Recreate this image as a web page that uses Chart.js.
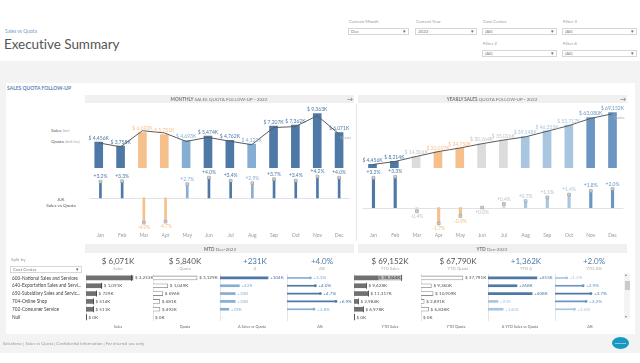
<!DOCTYPE html>
<html>
<head>
<meta charset="utf-8">
<title>Executive Summary</title>
<script src="https://cdn.jsdelivr.net/npm/chart.js@4.4.1/dist/chart.umd.min.js"></script>
<style>
  body { margin: 0; width: 640px; height: 363px; overflow: hidden; position: relative; background: #fff; font-family: Lato, "Open Sans", sans-serif; color: #555; }
  .t { position: absolute; white-space: nowrap; line-height: 1; }
  .c { transform: translateX(-50%); }
  .box { position: absolute; background: #fff; border: 1px solid #d6d6d6; box-sizing: border-box; font-size: 4.5px; color: #777; padding: 1px 2px; line-height: 1; }
  .box:after { content: '\25BE'; position: absolute; right: 2px; top: 0.5px; font-size: 5px; color: #666; }
  .strip { position: absolute; background: #f0f0f0; }
  canvas { position: absolute; }
</style>
</head>
<body>
<div style="position:absolute;left:0;top:61px;width:640px;height:292px;background:#f3f3f3"></div>
<div style="position:absolute;left:6px;top:83px;width:629px;height:251px;background:#fff"></div>
<div class="strip" style="left:85px;top:95px;width:269px;height:8px"></div>
<div class="strip" style="left:358px;top:95px;width:269px;height:8px"></div>
<div class="strip" style="left:85px;top:244px;width:269px;height:9px"></div>
<div class="strip" style="left:358px;top:244px;width:269px;height:9px"></div>
<div style="position:absolute;left:356px;top:104px;width:1px;height:137px;background:#e6e6e6"></div>

<canvas id="monthly" width="272" height="72" style="left:85px;top:100px"></canvas>
<canvas id="yearly" width="275" height="72" style="left:358px;top:100px"></canvas>
<canvas id="monthlyDelta" width="272" height="72" style="left:85px;top:168px"></canvas>
<canvas id="yearlyDelta" width="275" height="72" style="left:358px;top:168px"></canvas>

<canvas id="tSales" width="100" height="47" style="left:85px;top:274px"></canvas>
<canvas id="tQuota" width="100" height="47" style="left:152px;top:274px"></canvas>
<canvas id="tDelta" width="100" height="47" style="left:219px;top:274px"></canvas>
<canvas id="tPct" width="100" height="47" style="left:286px;top:274px"></canvas>
<canvas id="tYtdSales" width="100" height="47" style="left:353px;top:274px"></canvas>
<canvas id="tYtdQuota" width="100" height="47" style="left:420px;top:274px"></canvas>
<canvas id="tYtdDelta" width="100" height="47" style="left:487px;top:274px"></canvas>
<canvas id="tYtdPct" width="90" height="47" style="left:554px;top:274px"></canvas>

<div style="position:absolute;left:624px;top:273px;width:6px;height:46px;background:#f4f4f4"></div>
<div style="position:absolute;left:624.5px;top:281px;width:5px;height:9px;background:#cacaca"></div>
<div style="position:absolute;left:612px;top:337px;width:17px;height:12px;background:#1798c1;border-radius:50%"></div>

<script>
const months = ['Jan', 'Feb', 'Mar', 'Apr', 'May', 'Jun', 'Jul', 'Aug', 'Sep', 'Oct', 'Nov', 'Dec'];

const monthlySales = [4456, 3758, 6093, 5751, 4693, 5474, 4762, 4122, 7207, 7362, 9363, 6071];
const monthlyQuota = [4318, 3638, 6407, 6035, 4570, 5263, 4605, 4006, 6950, 7120, 8986, 5840];
const monthlyDeltaPct = [3.2, 3.3, -4.9, -4.7, 2.7, 4.0, 3.4, 2.9, 3.7, 3.4, 4.2, 4.0];

const yearlySales = [4456, 8214, 14306, 20057, 24750, 30264, 35026, 39148, 46355, 53717, 63080, 69152];
const yearlyQuota = [4318, 7952, 14363, 20404, 24975, 30264, 34886, 38876, 45851, 52975, 61965, 67790];
const yearlyDeltaPct = [3.2, 3.3, -0.4, -1.7, -0.9, 0.0, 0.4, 0.7, 1.1, 1.4, 1.8, 2.0];

const costCenters = ['600-National Sales and Services', '640-Exportation Sales and Servi...', '650-Subsidiary Sales and Servic...', '704-Online Shop', '702-Consumer Service', 'Null'];
const mtdSales = [3233, 1091, 729, 514, 511, 0];
const mtdQuota = [3129, 1049, 696, 481, 492, 0];
const mtdDelta = [104, 42, 33, 33, 19, null];
const mtdDeltaPct = [3.3, 4.0, 4.7, 6.9, 3.8, null];
const ytdSales = [38244, 9628, 11317, 2984, 6978, 0];
const ytdQuota = [37791, 9360, 10909, 2891, 6838, 0];
const ytdDelta = [453, 268, 408, 93, 140, null];
const ytdDeltaPct = [1.2, 2.9, 3.7, 3.2, 2.0, null];

const mtdKpis = [['$ 6,071K', 'Sales'], ['$ 5,840K', 'Quota'], ['+231K', '\u0394'], ['+4.0%', '\u0394%']];
const ytdKpis = [['$ 69,152K', 'YTD Sales'], ['$ 67,790K', 'YTD Quota'], ['+1,362K', 'YTD \u0394'], ['+2.0%', 'YTD \u0394%']];
const tableHeaders = ['Sales', 'Quota', '\u0394 Sales vs Quota', '\u0394%', 'YTD Sales', 'YTD Quota', '\u0394 YTD Sales vs Quota', '\u0394%'];

const DARK = '#4e79a7', MID = '#6b95c2', LIGHT = '#86aed4', PALE = '#a9c6e0', ORANGE = '#f6c08c', GREY = '#dcdcdc';
const monthlyColors = [DARK, DARK, ORANGE, ORANGE, LIGHT, DARK, DARK, LIGHT, DARK, DARK, DARK, DARK];
const yearlyColors = [DARK, DARK, GREY, ORANGE, ORANGE, GREY, GREY, PALE, PALE, PALE, MID, MID];
const yearlyLabelColors = [DARK, DARK, '#c4c4c4', ORANGE, ORANGE, '#c4c4c4', '#c4c4c4', PALE, PALE, PALE, MID, MID];

Chart.defaults.font.family = 'Lato';
Chart.defaults.animation = false;
Chart.defaults.responsive = false;
Chart.defaults.plugins.legend.display = false;
Chart.defaults.plugins.tooltip.enabled = false;

function put(html, x, y, style, centered) {
  const d = document.createElement('div');
  d.className = 't' + (centered ? ' c' : '');
  d.style.cssText = `left:${x}px;top:${y}px;` + (style || '');
  d.innerHTML = html;
  document.body.appendChild(d);
  return d;
}

function money(v) {
  return '$ ' + v.toLocaleString('en-US') + 'K';
}

function signed(v, digits, unit) {
  return (v >= 0 ? '+' : '') + v.toFixed(digits) + unit;
}

// bar + quota line, value labels on top
const valueLabels = {
  id: 'valueLabels',
  afterDatasetsDraw(chart) {
    const {ctx} = chart;
    const ds = chart.data.datasets[1];
    ctx.save();
    ctx.font = '5px Lato';
    ctx.textAlign = 'center';
    ctx.textBaseline = 'bottom';
    chart.getDatasetMeta(1).data.forEach((bar, i) => {
      ctx.fillStyle = ds.labelColors[i];
      ctx.fillText(money(ds.data[i]), bar.x, bar.y - 1.5);
    });
    const line = chart.getDatasetMeta(0).data;
    const last = line[line.length - 1];
    ctx.fillStyle = '#b0b0b0';
    ctx.textAlign = 'left';
    ctx.font = '4px Lato';
    ctx.fillText('Quota', last.x + 1, last.y + 6);
    ctx.restore();
  }
};

function followUp({elementName, sales, quota, colors, labelColors, max, padding}) {
  new Chart(document.getElementById(elementName), {
    type: 'bar',
    data: {
      labels: months,
      datasets: [
        {type: 'line', data: quota, borderColor: '#5a5a5a', borderWidth: 1, pointRadius: 0, order: 0},
        {type: 'bar', data: sales, backgroundColor: colors, labelColors, barThickness: 8, order: 1},
      ]
    },
    options: {
      layout: {padding},
      scales: {
        x: {display: false},
        y: {display: false, min: 0, max},
      },
    },
    plugins: [valueLabels]
  });
}

const deltaLabels = {
  id: 'deltaLabels',
  beforeDatasetsDraw(chart) {
    const {ctx, chartArea} = chart;
    const y = chart.scales.y.getPixelForValue(0);
    ctx.save();
    ctx.strokeStyle = '#e2e2e2';
    ctx.lineWidth = 1;
    ctx.beginPath();
    ctx.moveTo(chartArea.left, Math.round(y) + 0.5);
    ctx.lineTo(chartArea.right, Math.round(y) + 0.5);
    ctx.stroke();
    ctx.restore();
  },
  afterDatasetsDraw(chart) {
    const {ctx} = chart;
    const ds = chart.data.datasets[1];
    ctx.save();
    ctx.font = '5px Lato';
    ctx.textAlign = 'center';
    chart.getDatasetMeta(0).data.forEach((p, i) => {
      const v = ds.data[i];
      ctx.fillStyle = ds.labelColors[i];
      if (v > 0) {
        ctx.textBaseline = 'bottom';
        ctx.fillText(signed(v, 1, '%'), p.x, p.y - 2.5);
      } else {
        ctx.textBaseline = 'top';
        ctx.fillText(signed(v, 1, '%'), p.x, p.y + 2.5);
      }
    });
    ctx.restore();
  }
};

function lollipop({elementName, values, colors, labelColors, min, max, thickness, padding}) {
  new Chart(document.getElementById(elementName), {
    type: 'bar',
    data: {
      labels: months,
      datasets: [
        {type: 'line', data: values, showLine: false, pointStyle: 'rect', pointRadius: 2,
         pointBackgroundColor: '#d0d0d0', pointBorderColor: '#9a9a9a', pointBorderWidth: 0.6, order: 0},
        {type: 'bar', data: values, backgroundColor: colors, labelColors, barThickness: thickness, order: 1},
      ]
    },
    options: {
      layout: {padding},
      scales: {
        x: {
          display: true,
          grid: {display: false, drawTicks: false},
          border: {display: false},
          ticks: {display: true, color: '#9a9a9a', font: {size: 5}, padding: 1, maxRotation: 0, autoSkip: false},
        },
        y: {display: false, min, max},
      },
    },
    plugins: [deltaLabels]
  });
}

// one column of the cost center table
const rowLabels = {
  id: 'rowLabels',
  beforeDatasetsDraw(chart) {
    const {ctx, chartArea} = chart;
    const x = Math.round(chart.scales.x.getPixelForValue(0)) + 0.5;
    ctx.save();
    ctx.strokeStyle = '#e4e4e4';
    ctx.beginPath();
    ctx.moveTo(x, chartArea.top);
    ctx.lineTo(x, chartArea.bottom);
    ctx.stroke();
    ctx.restore();
  },
  afterDatasetsDraw(chart) {
    const {ctx, chartArea} = chart;
    const ds = chart.data.datasets[0];
    const xs = chart.scales.x;
    ctx.save();
    ctx.font = '4.6px Lato';
    ctx.textBaseline = 'middle';
    chart.getDatasetMeta(0).data.forEach((bar, i) => {
      const v = ds.data[i];
      if (v === null) {
        if (ds.kind === 'delta') {
          ctx.fillStyle = '#ccc';
          ctx.fillText('-', xs.getPixelForValue(0) + 2, bar.y);
        }
        return;
      }
      let end = bar.x;
      if (ds.kind === 'sales') {
        const tx = Math.round(xs.getPixelForValue(ds.marks[i])) + 0.5;
        ctx.strokeStyle = '#3a3a3a';
        ctx.lineWidth = 0.8;
        ctx.beginPath();
        ctx.moveTo(tx, bar.y - 3);
        ctx.lineTo(tx, bar.y + 3);
        ctx.stroke();
        end = Math.max(end, tx);
      }
      if (ds.kind === 'pct') {
        ctx.fillStyle = ds.backgroundColor[i];
        ctx.beginPath();
        ctx.arc(bar.x, bar.y, 1.4, 0, Math.PI * 2);
        ctx.fill();
        end += 1;
      }
      const text = ds.format(v);
      const w = ctx.measureText(text).width;
      ctx.fillStyle = ds.kind === 'delta' || ds.kind === 'pct' ? ds.backgroundColor[i] : '#555';
      if (end + 2 + w > chartArea.right + 2 && ds.kind !== 'pct') {
        ctx.fillStyle = 'rgba(255,255,255,0.55)';
        ctx.fillRect(end - w - 2, bar.y - 2.5, w + 1.5, 5);
        ctx.fillStyle = '#333';
        ctx.textAlign = 'right';
        ctx.fillText(text, end - 1.5, bar.y);
      } else {
        ctx.textAlign = 'left';
        ctx.fillText(text, end + 2, bar.y);
      }
    });
    ctx.restore();
  }
};

function tableColumn({elementName, values, max, kind, colors, marks, format, paddingRight}) {
  const styles = {
    sales: {backgroundColor: '#707070', barThickness: 4},
    quota: {backgroundColor: '#ffffff', borderColor: '#8c8c8c', borderWidth: 0.8, barThickness: 4},
    delta: {backgroundColor: colors, barThickness: 2},
    pct: {backgroundColor: colors, barThickness: 1},
  };
  new Chart(document.getElementById(elementName), {
    type: 'bar',
    data: {
      labels: costCenters,
      datasets: [Object.assign({data: values, kind, marks, format}, styles[kind])]
    },
    options: {
      indexAxis: 'y',
      layout: {padding: {left: 1, right: paddingRight || 33, top: 0, bottom: 0}},
      scales: {
        x: {display: false, min: 0, max},
        y: {display: false},
      },
    },
    plugins: [rowLabels]
  });
}

followUp({elementName: 'monthly', sales: monthlySales, quota: monthlyQuota, colors: monthlyColors,
  labelColors: monthlyColors, max: 11000, padding: {left: 2.8, right: 7, top: 4, bottom: 4}});
followUp({elementName: 'yearly', sales: yearlySales, quota: yearlyQuota, colors: yearlyColors,
  labelColors: yearlyLabelColors, max: 80000, padding: {left: 3.6, right: 9.6, top: 4, bottom: 4}});
lollipop({elementName: 'monthlyDelta', values: monthlyDeltaPct, colors: monthlyColors, labelColors: monthlyColors,
  min: -6.54, max: 5, thickness: 2, padding: {left: 2.8, right: 7, top: 4, bottom: 1}});
lollipop({elementName: 'yearlyDelta', values: yearlyDeltaPct, colors: yearlyColors, labelColors: yearlyLabelColors,
  min: -2.5, max: 3.75, thickness: 2.5, padding: {left: 3.6, right: 9.6, top: 4, bottom: 1}});

tableColumn({elementName: 'tSales', values: mtdSales, marks: mtdQuota, max: 4550, kind: 'sales', format: money});
tableColumn({elementName: 'tQuota', values: mtdQuota, max: 4680, kind: 'quota', format: money});
tableColumn({elementName: 'tDelta', values: mtdDelta, max: 143, kind: 'delta', format: v => '+' + v + 'K',
  colors: [DARK, LIGHT, LIGHT, LIGHT, LIGHT, LIGHT]});
tableColumn({elementName: 'tPct', values: mtdDeltaPct, max: 9.3, kind: 'pct', format: v => signed(v, 1, '%'),
  colors: [LIGHT, DARK, DARK, DARK, LIGHT, LIGHT]});
tableColumn({elementName: 'tYtdSales', values: ytdSales, marks: ytdQuota, max: 52800, kind: 'sales', format: money});
tableColumn({elementName: 'tYtdQuota', values: ytdQuota, max: 59400, kind: 'quota', format: money});
tableColumn({elementName: 'tYtdDelta', values: ytdDelta, max: 611, kind: 'delta', format: v => '+' + v + 'K',
  colors: [DARK, DARK, DARK, PALE, PALE, PALE]});
tableColumn({elementName: 'tYtdPct', values: ytdDeltaPct, max: 6.9, kind: 'pct', format: v => signed(v, 1, '%'),
  colors: [PALE, MID, DARK, MID, PALE, PALE], paddingRight: 22});

// header
put('Sales vs Quota', 5, 28.5, 'font-size:5px;color:#7b9cc6');
put('Executive Summary', 4, 38, 'font-size:13.5px;letter-spacing:-0.05px;color:#555');

const filters = [['Current Month', 'Dec', 348, 22, 61], ['Current Year', '2022', 415, 22, 62], ['Cost Center', '(All)', 482, 22, 75],
  ['Filter 3', '(All)', 562, 22, 75], ['Filter 2', '(All)', 482, 44, 75], ['Filter 4', '(All)', 562, 44, 75]];
filters.forEach(([label, value, x, y, w]) => {
  put(label, x + 1, y - 2.2, 'font-size:4.5px;color:#999');
  put(value, x, y + 5.5, `width:${w}px;height:7px`).className = 'box';
});

put('SALES QUOTA FOLLOW-UP', 7, 86, 'font-size:5px;font-weight:bold;color:#5b86b5');
put('<b>MONTHLY</b> SALES QUOTA FOLLOW-UP - 2022', 219, 97, 'font-size:4.6px;color:#777', true);
put('<b>YEARLY SALES</b> QUOTA FOLLOW-UP - 2022', 492, 97, 'font-size:4.6px;color:#777', true);
put('\u2192', 347, 96, 'font-size:6px;color:#666');
put('\u2192', 620, 96, 'font-size:6px;color:#666');

put('Sales <span style="font-size:3.6px;color:#aaa">(bar)</span>', 51, 128, 'font-size:4.6px;color:#555');
put('Quota <span style="font-size:3.6px;color:#aaa">(dark line)</span>', 51, 139, 'font-size:4.6px;color:#555');
put('\u0394%', 61, 197, 'font-size:4.6px;color:#555', true);
put('Sales vs Quota', 61, 203, 'font-size:4.6px;color:#555', true);

put('<b>MTD</b> Dec-2022', 220, 246.5, 'font-size:4.6px;color:#777', true);
put('<b>YTD</b> Dec-2022', 492, 246.5, 'font-size:4.6px;color:#777', true);

const kpiX = [118, 185, 255, 322, 390, 458, 526, 594];
mtdKpis.concat(ytdKpis).forEach(([value, label], i) => {
  const color = i % 4 >= 2 ? '#4e79a7' : '#555';
  put(value, kpiX[i], 257, `font-size:8px;color:${color}`, true);
  put(label, kpiX[i], 266.5, 'font-size:4.2px;color:#aaa', true);
});

put('Split by', 11, 258, 'font-size:4.5px;color:#999');
put('Cost Center', 10, 265.5, 'width:72px;height:7px').className = 'box';

costCenters.forEach((name, i) => {
  put(name, 12, 275.6 + i * 7.83, 'font-size:4.7px;color:#444');
});

const headerX = [118, 185, 252, 320, 390, 456, 520, 590];
tableHeaders.forEach((h, i) => put(h, headerX[i], 324.5, 'font-size:3.8px;color:#666', true));

put('\u25B4', 624.6, 273, 'font-size:4px;color:#888');
put('\u25BE', 624.6, 315, 'font-size:4px;color:#888');

put('Salesforce | Sales vs Quota | Confidential Information | For internal use only', 3, 342, 'font-size:4.3px;color:#999');
put('salesforce', 620.5, 341.5, 'font-size:2.6px;color:#fff', true);
</script>
</body>
</html>
